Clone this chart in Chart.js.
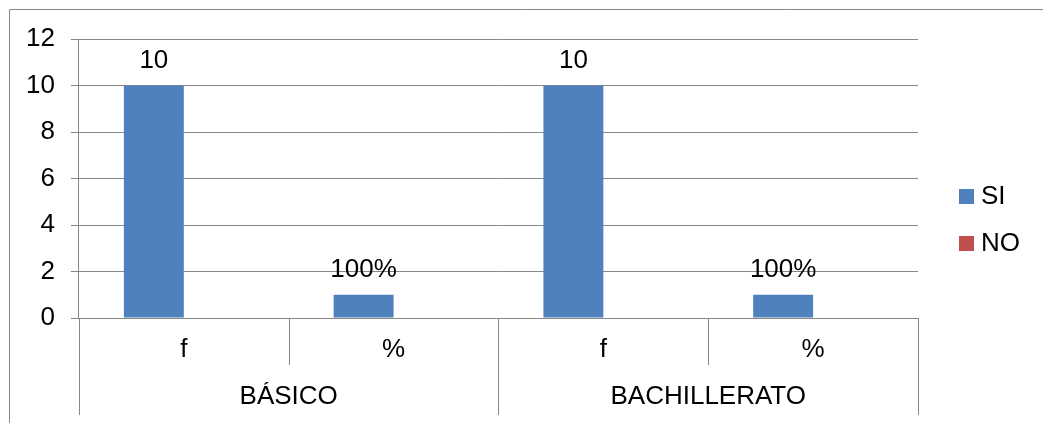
<!DOCTYPE html>
<html>
<head>
<meta charset="utf-8">
<script src="https://cdn.jsdelivr.net/npm/chart.js@4/dist/chart.umd.min.js"></script>
<style>
  html, body { margin: 0; padding: 0; background: #ffffff; }
  #wrap { width: 1043px; height: 423px; position: relative; }
</style>
</head>
<body>
<div id="wrap"><canvas id="c" width="1043" height="423"></canvas></div>
<script>
// ---- data ----
const categories = ['f', '%', 'f', '%'];
const groups = ['BÁSICO', 'BACHILLERATO'];
const groupSize = 2;
const seriesNames = ['SI', 'NO'];
const seriesColors = ['#4F81BD', '#C0504D'];
const valuesSI = [10, 1, 10, 1];
const valuesNO = [0, 0, 0, 0];
const labelsSI = ['10', '100%', '10', '100%'];
const yTicks = [0, 2, 4, 6, 8, 10, 12];

const FONT = "'Liberation Sans', Arial, sans-serif";
const FS = 26;
const GRID = '#878787';

// square legend markers
function swatch(color) {
  const c = document.createElement('canvas');
  c.width = 15; c.height = 15;
  const g = c.getContext('2d');
  g.fillStyle = color;
  g.fillRect(0, 0, 15, 15);
  return c;
}
const swatches = seriesColors.map(swatch);

const framePlugin = {
  id: 'frame',
  beforeDraw(chart) {
    const ctx = chart.ctx;
    ctx.save();
    ctx.fillStyle = '#ffffff';
    ctx.fillRect(0, 0, chart.width, chart.height);
    ctx.strokeStyle = GRID;
    ctx.lineWidth = 1;
    ctx.beginPath();
    ctx.moveTo(9.5, chart.height);
    ctx.lineTo(9.5, 9.5);
    ctx.lineTo(chart.width, 9.5);
    ctx.stroke();
    ctx.restore();
  }
};

// category separators of the two-level category axis
const separatorPlugin = {
  id: 'separators',
  afterDraw(chart) {
    const x = chart.scales.x;
    const ctx = chart.ctx;
    const top = x.top;
    ctx.save();
    ctx.strokeStyle = GRID;
    ctx.lineWidth = 1;
    for (let i = 0; i <= categories.length; i++) {
      const px = Math.round(x.getPixelForValue(i - 0.5)) + 0.5;
      const outer = (i % groupSize) === 0;
      ctx.beginPath();
      ctx.moveTo(px, top);
      ctx.lineTo(px, top + (outer ? 97 : 47));
      ctx.stroke();
    }
    ctx.restore();
  }
};

const valueLabelPlugin = {
  id: 'valueLabels',
  afterDatasetsDraw(chart) {
    const ctx = chart.ctx;
    const meta = chart.getDatasetMeta(0);
    ctx.save();
    ctx.font = FS + 'px ' + FONT;
    ctx.fillStyle = '#000000';
    ctx.textAlign = 'center';
    ctx.textBaseline = 'alphabetic';
    meta.data.forEach((bar, i) => {
      ctx.fillText(labelsSI[i], bar.x, bar.y - 18);
    });
    ctx.restore();
  }
};

new Chart(document.getElementById('c'), {
  type: 'bar',
  data: {
    labels: categories,
    datasets: [
      { label: seriesNames[0], data: valuesSI, backgroundColor: seriesColors[0], borderWidth: 0 },
      { label: seriesNames[1], data: valuesNO, backgroundColor: seriesColors[1], borderWidth: 0 }
    ]
  },
  options: {
    responsive: false,
    animation: false,
    events: [],
    layout: { padding: { top: 28, left: 10, right: 13, bottom: 11 } },
    datasets: { bar: { categoryPercentage: 0.5714, barPercentage: 1.0 } },
    scales: {
      x: {
        type: 'category',
        position: 'bottom',
        offset: true,
        grid: { display: false, drawTicks: false, tickLength: 0 },
        border: { display: true, color: GRID, width: 1 },
        ticks: { color: '#000000', padding: 19, maxRotation: 0, autoSkip: false, font: { family: FONT, size: FS, lineHeight: 1 } }
      },
      x2: {
        type: 'category',
        position: 'bottom',
        labels: groups,
        offset: true,
        grid: { display: false, drawTicks: false, tickLength: 0 },
        border: { display: false },
        ticks: { color: '#000000', padding: 2, maxRotation: 0, autoSkip: false, font: { family: FONT, size: FS, lineHeight: 1 } }
      },
      y: {
        type: 'linear',
        position: 'left',
        min: 0,
        max: 12,
        afterBuildTicks(scale) { scale.ticks = yTicks.map(v => ({ value: v })); },
        grid: { color: GRID, lineWidth: 1, drawTicks: true, tickLength: 8 },
        border: { display: true, color: GRID, width: 1 },
        ticks: { color: '#000000', padding: 16, font: { family: FONT, size: FS } }
      },
      yR: {
        type: 'linear',
        position: 'right',
        display: true,
        grid: { display: false },
        border: { display: false },
        ticks: { display: false },
        afterFit(scale) { scale.width = 26; }
      }
    },
    plugins: {
      title: { display: true, text: '', padding: 0, font: { size: 10, lineHeight: 1.1 } },
      legend: {
        display: true,
        position: 'right',
        align: 'center',
        labels: {
          usePointStyle: true,
          pointStyleWidth: 3,
          boxHeight: 15,
          padding: 21,
          color: '#000000',
          font: { family: FONT, size: FS },
          generateLabels(chart) {
            const items = Chart.defaults.plugins.legend.labels.generateLabels(chart);
            items.forEach((it, i) => { it.pointStyle = swatches[i]; });
            return items;
          }
        }
      },
      tooltip: { enabled: false }
    }
  },
  plugins: [framePlugin, separatorPlugin, valueLabelPlugin]
});
</script>
</body>
</html>
